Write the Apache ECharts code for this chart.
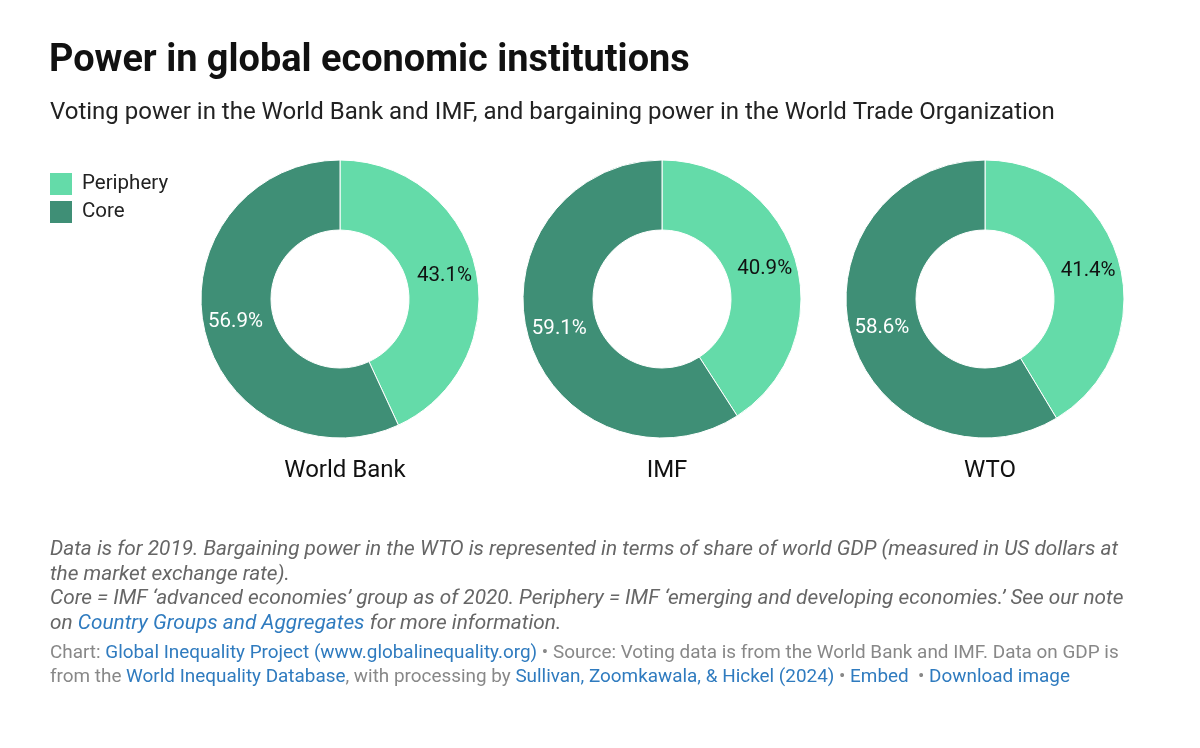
<!DOCTYPE html>
<html lang="en">
<head>
  <meta charset="UTF-8" />
  <title>Power in global economic institutions</title>
  <script src="https://cdn.jsdelivr.net/npm/echarts@6/dist/echarts.min.js"></script>
  <style>
    html, body { margin: 0; padding: 0; background: #fff; }
    #main { width: 1200px; height: 748px; }
  </style>
</head>
<body>
  <div id="main"></div>
<script>
  // data
  var institutions = ["World Bank", "IMF", "WTO"];
  var groups = ["Periphery", "Core"];
  var periphery = [43.1, 40.9, 41.4];
  var core = [56.9, 59.1, 58.6];
  var colors = ["#64dba9", "#3f8f76"];
  var centersX = [340, 662, 985];

  var chart = echarts.init(document.getElementById("main"));
  var font = "Roboto, 'Noto Sans', sans-serif";

  var series = institutions.map(function (name, i) {
    return {
      type: "pie",
      name: name,
      center: [centersX[i], 299],
      radius: [69, 139],
      startAngle: 90,
      clockwise: true,
      avoidLabelOverlap: false,
      silent: true,
      itemStyle: { borderColor: "#fff", borderWidth: 1 },
      label: {
        show: true,
        position: "inside",
        fontFamily: font,
        fontSize: 20.5,
        formatter: function (p) { return p.value.toFixed(1) + "%"; }
      },
      labelLine: { show: false },
      data: [
        { name: groups[0], value: periphery[i], itemStyle: { color: colors[0] }, label: { color: "#111" } },
        { name: groups[1], value: core[i], itemStyle: { color: colors[1] }, label: { color: "#fff" } }
      ]
    };
  });

  var link = "#2f7bbf";

  var option = {
    animation: false,
    legend: {
      orient: "vertical",
      left: 43,
      top: 166,
      icon: "rect",
      itemWidth: 24,
      itemHeight: 24,
      itemGap: 2,
      selectedMode: false,
      data: groups,
      textStyle: { fontFamily: font, fontSize: 20.5, color: "#222", padding: [0, 0, 0, 4] }
    },
    title: institutions.map(function (name, i) {
      return {
        text: name,
        left: centersX[i],
        top: 454,
        textAlign: "center",
        textStyle: { fontFamily: font, fontSize: 24, fontWeight: "normal", color: "#111" }
      };
    }).concat([
      {
        text: "Power in global economic institutions",
        left: 44, top: 38,
        textStyle: { fontFamily: font, fontSize: 37.9, fontWeight: "bold", color: "#111" }
      },
      {
        text: "Voting power in the World Bank and IMF, and bargaining power in the World Trade Organization",
        left: 45, top: 96,
        textStyle: { fontFamily: font, fontSize: 24, fontWeight: "normal", color: "#222" }
      }
    ]),
    graphic: [
      {
        type: "text", left: 50, top: 538,
        style: {
          text: "Data is for 2019. Bargaining power in the WTO is represented in terms of share of world GDP (measured in US dollars at\nthe market exchange rate).\nCore = IMF \u2018advanced economies\u2019 group as of 2020. Periphery = IMF \u2018emerging and developing economies.\u2019 See our note\non {l|Country Groups and Aggregates} for more information.",
          fontFamily: font, fontSize: 20.8, fontStyle: "italic", fill: "#666", lineHeight: 24.5,
          rich: { l: { fill: link, fontFamily: font, fontSize: 20.8, fontStyle: "italic" } }
        }
      },
      {
        type: "text", left: 50, top: 642,
        style: {
          text: "Chart: {l|Global Inequality Project (www.globalinequality.org)} \u2022 Source: Voting data is from the World Bank and IMF. Data on GDP is\nfrom the {l|World Inequality Database}, with processing by {l|Sullivan, Zoomkawala, & Hickel (2024)} \u2022 {l|Embed}  \u2022 {l|Download image}",
          fontFamily: font, fontSize: 18.9, fill: "#888", lineHeight: 23.5,
          rich: { l: { fill: link, fontFamily: font, fontSize: 18.9 } }
        }
      }
    ],
    series: series
  };

  chart.setOption(option);
</script>
</body>
</html>
